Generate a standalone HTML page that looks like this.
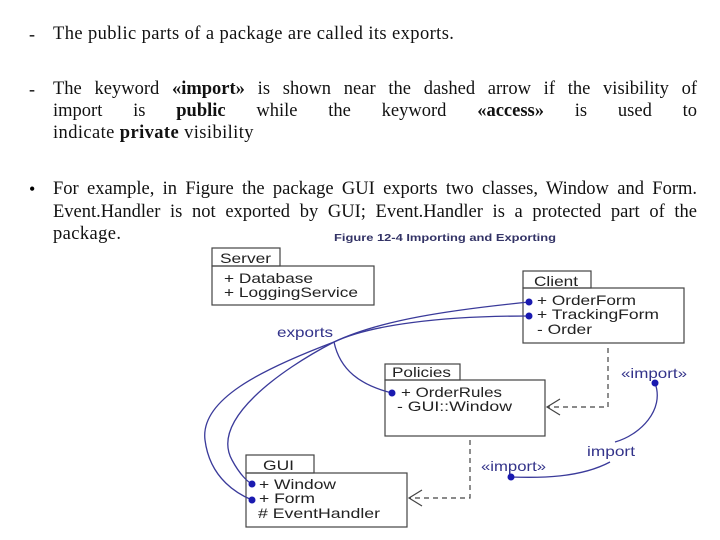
<!DOCTYPE html>
<html><head><meta charset="utf-8"><style>
body{margin:0;width:720px;height:540px;background:#fff;position:relative;overflow:hidden;font-family:"Liberation Serif",serif;}
.l{position:absolute;left:53px;width:644px;font-size:18.5px;letter-spacing:0.4px;line-height:20px;color:#111;white-space:nowrap}
.j{text-align:justify;text-align-last:justify;white-space:normal;letter-spacing:0}
.m{position:absolute;left:29px;font-size:18px;line-height:20px}
svg text{font-family:"Liberation Sans",sans-serif}
</style></head><body>
<div class="m" style="top:24px">-</div>
<div class="l" style="top:24px">The public parts of a package are called its exports.</div>
<div class="m" style="top:79px">-</div>
<div class="l j" style="top:79px">The keyword <b>«import»</b> is shown near the dashed arrow if the visibility of</div>
<div class="l j" style="top:101px">import is <b>public</b> while the keyword <b>«access»</b> is used to</div>
<div class="l" style="top:123px">indicate <b>private</b> visibility</div>
<div class="m" style="top:179px">•</div>
<div class="l j" style="top:179px">For example, in Figure the package GUI exports two classes, Window and Form.</div>
<div class="l j" style="top:202px">Event.Handler is not exported by GUI; Event.Handler is a protected part of the</div>
<div class="l" style="top:224px">package.</div>
<svg width="720" height="540" style="position:absolute;left:0;top:0">
<text x="334" y="241" font-size="10" font-weight="bold" fill="#336" textLength="222" lengthAdjust="spacingAndGlyphs">Figure 12-4 Importing and Exporting</text>
<g fill="none" stroke="#444" stroke-width="1.2">
<rect x="212" y="248" width="68" height="18"/><rect x="212" y="266" width="162" height="39"/>
<rect x="523" y="271" width="68" height="17"/><rect x="523" y="288" width="161" height="55"/>
<rect x="385" y="364" width="75" height="16"/><rect x="385" y="380" width="160" height="56"/>
<rect x="246" y="455" width="68" height="18"/><rect x="246" y="473" width="161" height="54"/>
</g>
<g font-size="14" fill="#222" lengthAdjust="spacingAndGlyphs">
<text x="220" y="263" textLength="51" lengthAdjust="spacingAndGlyphs">Server</text>
<text x="224" y="283" textLength="89" lengthAdjust="spacingAndGlyphs">+ Database</text>
<text x="224" y="297" textLength="134" lengthAdjust="spacingAndGlyphs">+ LoggingService</text>
<text x="534" y="286" textLength="44" lengthAdjust="spacingAndGlyphs">Client</text>
<text x="537" y="305" textLength="99" lengthAdjust="spacingAndGlyphs">+ OrderForm</text>
<text x="537" y="319" textLength="122" lengthAdjust="spacingAndGlyphs">+ TrackingForm</text>
<text x="537" y="334" textLength="55" lengthAdjust="spacingAndGlyphs">- Order</text>
<text x="392" y="377" textLength="59" lengthAdjust="spacingAndGlyphs">Policies</text>
<text x="401" y="397" textLength="101" lengthAdjust="spacingAndGlyphs">+ OrderRules</text>
<text x="397" y="411" textLength="115" lengthAdjust="spacingAndGlyphs">- GUI::Window</text>
<text x="263" y="470" textLength="31" lengthAdjust="spacingAndGlyphs">GUI</text>
<text x="259" y="489" textLength="77" lengthAdjust="spacingAndGlyphs">+ Window</text>
<text x="259" y="503" textLength="56" lengthAdjust="spacingAndGlyphs">+ Form</text>
<text x="258" y="518" textLength="122" lengthAdjust="spacingAndGlyphs"># EventHandler</text>
</g>
<g font-size="14" fill="#33338a">
<text x="277" y="337" textLength="56" lengthAdjust="spacingAndGlyphs">exports</text>
<text x="621" y="378" textLength="66" lengthAdjust="spacingAndGlyphs">«import»</text>
<text x="587" y="456" textLength="48" lengthAdjust="spacingAndGlyphs">import</text>
<text x="481" y="471" textLength="65" lengthAdjust="spacingAndGlyphs">«import»</text>
</g>
<g fill="none" stroke="#3a3a9a" stroke-width="1.3">
<path d="M529,302 C450,310 380,320 334,342 C260,370 200,400 205,440 C210,480 240,495 252,500"/>
<path d="M529,316 C440,316 370,325 334,342 C280,370 210,420 232,460 C240,475 248,482 252,484"/>
<path d="M334,342 C340,370 360,385 392,393"/>
<path d="M655,383 C665,410 640,435 615,442"/>
<path d="M610,462 C580,478 540,478 511,477"/>
</g>
<g fill="#1a1ab0">
<circle cx="529" cy="302" r="3.5"/><circle cx="529" cy="316" r="3.5"/><circle cx="392" cy="393" r="3.5"/>
<circle cx="252" cy="484" r="3.5"/><circle cx="252" cy="500" r="3.5"/><circle cx="655" cy="383" r="3.5"/><circle cx="511" cy="477" r="3.5"/>
</g>
<g fill="none" stroke="#444" stroke-width="1.2">
<path d="M608,348 V407 H548" stroke-dasharray="5,4"/><path d="M560,399 L547,407 L560,415"/>
<path d="M470,440 V498 H410" stroke-dasharray="5,4"/><path d="M422,490 L409,498 L422,506"/>
</g>
</svg>
</body></html>
